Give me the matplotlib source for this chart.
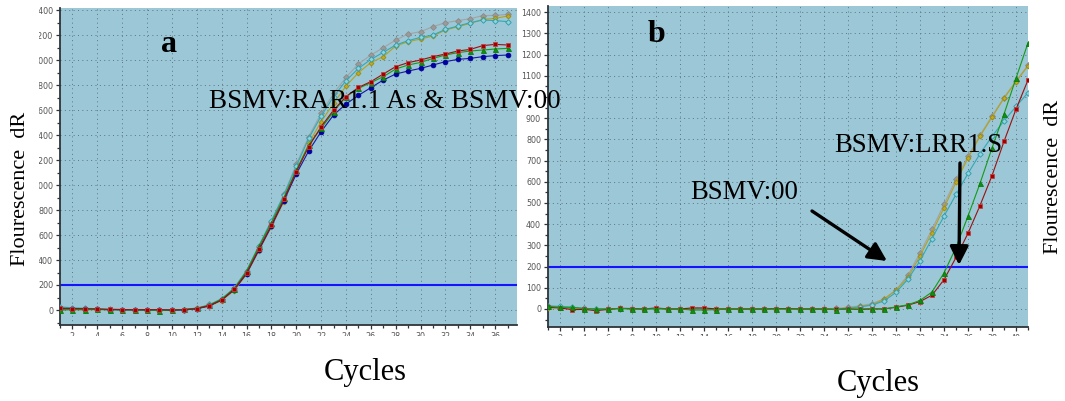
import matplotlib
matplotlib.use("Agg")
import matplotlib.pyplot as plt
from matplotlib.patches import FancyArrowPatch
from matplotlib.transforms import Bbox, TransformedBbox
from matplotlib.ticker import MultipleLocator

# ---------------- data ----------------
# Panel a: amplification curves, cycles 1..37
cycles_a = list(range(1, 38))
gray_a = [12, 10, 8, 6, 4, 3, 2, 1, 0, 0, 3, 15, 45, 88, 173, 307, 507, 707, 925, 1165,
          1387, 1573, 1733, 1861, 1968, 2040, 2099, 2160, 2208, 2227, 2267, 2299, 2315,
          2331, 2355, 2357, 2365]
cyan_a = [25, 18, 14, 10, 6, 4, 2, 1, 0, -2, 2, 12, 40, 90, 175, 315, 515, 715, 920, 1150,
          1373, 1552, 1707, 1835, 1933, 2005, 2061, 2120, 2155, 2181, 2200, 2245, 2272,
          2299, 2320, 2315, 2307]
olive_a = [5, 3, 2, 2, 1, 0, 0, 0, -2, 0, 2, 10, 30, 75, 155, 285, 475, 665, 865, 1100,
           1333, 1507, 1653, 1792, 1899, 1979, 2027, 2112, 2147, 2168, 2192, 2240, 2267,
           2293, 2325, 2333, 2352]
red_a = [15, 12, 10, 8, 5, 4, 2, 3, 2, 0, 3, 12, 35, 80, 165, 295, 490, 680, 885, 1107,
         1307, 1467, 1600, 1707, 1781, 1827, 1888, 1947, 1979, 2000, 2027, 2048, 2072,
         2085, 2115, 2125, 2120]
green_a = [0, 2, 3, 5, 3, 2, 1, 0, -5, 0, 5, 15, 38, 88, 170, 310, 510, 700, 900, 1120,
           1320, 1453, 1587, 1707, 1773, 1819, 1867, 1928, 1960, 1981, 2013, 2040, 2059,
           2072, 2080, 2088, 2093]
blue_a = [10, 8, 6, 5, 3, 2, 1, 0, 0, -2, 2, 10, 32, 80, 160, 290, 480, 670, 875, 1088,
          1272, 1427, 1560, 1648, 1717, 1779, 1840, 1888, 1912, 1933, 1960, 1987, 2005,
          2013, 2027, 2035, 2040]

# Panel b: amplification curves, cycles 1..41
cycles_b = list(range(1, 42))
gray_b = [10, 8, 5, 2, 0, -2, 3, 2, 0, 0, 2, 0, 1, 0, -2, 0, 2, 0, 0, 0, 0, 0, 0, 0, 3,
          8, 15, 25, 48, 90, 160, 265, 375, 493, 612, 720, 820, 910, 997, 1075, 1150]
olive_b = [5, 5, 3, 0, 0, 0, 2, 0, 0, 0, 0, 2, 0, 0, 0, 0, 0, 0, 0, 0, 0, 0, 0, 0, 0,
           5, 12, 20, 45, 88, 150, 250, 360, 477, 598, 712, 814, 905, 994, 1072, 1146]
cyan_b = [15, 12, 8, 3, 0, 0, 2, 0, -2, 0, 0, 0, 0, 0, -3, 0, 0, 0, -2, 0, 0, 0, 0, -2,
          0, 3, 10, 18, 38, 78, 141, 227, 332, 438, 540, 639, 732, 814, 887, 955, 1020]
green_b = [12, 8, 8, 2, 0, 0, 3, 0, 0, 2, 0, 0, -5, -5, -3, 0, 0, 0, 0, 0, 0, 0, 0, 0,
           -3, 0, 0, 2, 0, 10, 20, 40, 80, 170, 290, 438, 592, 759, 919, 1088, 1255]
red_b = [8, 5, -3, -2, -8, -2, 3, 2, 0, 5, 0, 0, 5, 5, 0, 0, 0, 0, 0, 2, 2, 0, 0, 0,
         -2, 0, -2, 0, 0, 8, 18, 35, 65, 138, 243, 357, 488, 629, 790, 942, 1080]

threshold = 200

yticks_a = list(range(0, 2401, 200))
yticks_b = list(range(0, 1401, 100))
xticks_a = list(range(2, 37, 2))
xticks_b = list(range(2, 41, 2))
ylabels_a = [str(v) for v in yticks_a]
# the 1000 label of panel b sits under the panel-a caption
ylabels_b = ["" if v == 1000 else str(v) for v in yticks_b]

# ---------------- styling ----------------
W, H = 1065, 401
BG = "#9bc7d6"
GRID = "#5e7480"
SPINE = "#2e3438"
TICKTXT = "#555555"
SERIF = ["Liberation Serif", "DejaVu Serif"]

styles = {
    "gray": dict(color="#a3a3a3", marker="D", mfc="#9a9a9a", mec="#8a8a8a", ms=3.0),
    "cyan": dict(color="#35a8b4", marker="D", mfc="#8fd2dc", mec="#2a9aa8", ms=2.8),
    "olive": dict(color="#b5a21c", marker="D", mfc="#c0aa22", mec="#9a8a10", ms=2.5),
    "red": dict(color="#9a1010", marker="s", mfc="#a00000", mec="#c04040", ms=3.4),
    "green": dict(color="#169a16", marker="^", mfc="#109010", mec="#0a7a0a", ms=3.6),
    "blue": dict(color="#1818a0", marker="o", mfc="#00009a", mec="#0000a0", ms=3.4),
}

fig = plt.figure(figsize=(W / 100, H / 100), dpi=100)
fig.patch.set_facecolor("white")


def box(left, top, right, bottom):
    return [left / W, 1 - bottom / H, (right - left) / W, (bottom - top) / H]


def fx(x):
    return x / W


def fy(y):
    return 1 - y / H


def style_axes(ax, xmin, xmax, ymin, ymax, yticks, ylabels, ymin_step, xticks):
    ax.set_facecolor(BG)
    ax.set_xlim(xmin, xmax)
    ax.set_ylim(ymin, ymax)
    for s in ("top", "right"):
        ax.spines[s].set_visible(False)
    for s in ("left", "bottom"):
        ax.spines[s].set_color(SPINE)
        ax.spines[s].set_linewidth(1.3)
    ax.set_yticks(yticks, labels=ylabels)
    ax.yaxis.set_minor_locator(MultipleLocator(ymin_step))
    ax.set_xticks(xticks, labels=[str(v) for v in xticks])
    ax.xaxis.set_minor_locator(MultipleLocator(1))
    ax.tick_params(axis="both", which="major", direction="out", length=3, width=0.9,
                   color=SPINE, labelsize=5.8, labelcolor=TICKTXT, pad=2)
    ax.tick_params(axis="both", which="minor", direction="out", length=2.5, width=0.9,
                   color=SPINE)
    ax.grid(True, which="major", color=GRID, linestyle=(0, (1, 3.5)), linewidth=0.7)
    ax.set_axisbelow(True)


def plot_series(ax, x, y, key):
    st = styles[key]
    ax.plot(x, y, color=st["color"], lw=0.8, marker=st["marker"], ms=st["ms"],
            mfc=st["mfc"], mec=st["mec"], mew=0.6, zorder=3)


# ---------------- panel a ----------------
ax_a = fig.add_axes(box(60, 8, 517, 325))
style_axes(ax_a, 1, 37.75, -120, 2416, yticks_a, ylabels_a, 100, xticks_a)
ax_a.axhline(threshold, color="#1414ff", lw=1.5, zorder=2)
for key, vals in [("gray", gray_a), ("olive", olive_a), ("cyan", cyan_a),
                  ("blue", blue_a), ("green", green_a), ("red", red_a)]:
    plot_series(ax_a, cycles_a, vals, key)

# ---------------- panel b ----------------
ax_b = fig.add_axes(box(548, 6, 1028, 327))
style_axes(ax_b, 1, 41, -85, 1429, yticks_b, ylabels_b, 50, xticks_b)
ax_b.axhline(threshold, color="#1414ff", lw=1.5, zorder=2)
for key, vals in [("gray", gray_b), ("olive", olive_b), ("cyan", cyan_b),
                  ("red", red_b), ("green", green_b)]:
    plot_series(ax_b, cycles_b, vals, key)

# tick labels are trimmed at the edges of each scanned panel
clip_a_y = TransformedBbox(Bbox.from_extents(fx(38.5), 0, 1, 1), fig.transFigure)
clip_x = TransformedBbox(Bbox.from_extents(0, fy(335.5), 1, 1), fig.transFigure)
for lab in ax_a.get_yticklabels():
    lab.set_clip_box(clip_a_y)
    lab.set_clip_on(True)
for ax in (ax_a, ax_b):
    for lab in ax.get_xticklabels():
        lab.set_clip_box(clip_x)
        lab.set_clip_on(True)

# ---------------- text ----------------
fig.text(fx(161), fy(52), "a", family=SERIF, weight="bold", fontsize=23, va="baseline")
fig.text(fx(648), fy(42), "b", family=SERIF, weight="bold", fontsize=23, va="baseline")
fig.text(fx(209), fy(108), "BSMV:RAR1.1 As & BSMV:00", family=SERIF, fontsize=19.5,
         va="baseline")
fig.text(fx(834), fy(152), "BSMV:LRR1.S", family=SERIF, fontsize=19.3, va="baseline")
fig.text(fx(690), fy(199), "BSMV:00", family=SERIF, fontsize=19.3, va="baseline")
fig.text(fx(365), fy(380), "Cycles", family=SERIF, fontsize=22, va="baseline", ha="center")
fig.text(fx(878), fy(391), "Cycles", family=SERIF, fontsize=22, va="baseline", ha="center")
fig.text(fx(21), fy(189), "Flourescence  dR", family=SERIF, fontsize=16, rotation=90,
         ha="center", va="center")
fig.text(fx(1054), fy(177), "Flourescence  dR", family=SERIF, fontsize=16, rotation=90,
         ha="center", va="center")

# ---------------- arrows ----------------
for (x0, y0), (x1, y1) in [((812, 211), (887, 261)), ((960, 163), (959, 265))]:
    arr = FancyArrowPatch((fx(x0), fy(y0)), (fx(x1), fy(y1)),
                          transform=fig.transFigure, arrowstyle="-|>",
                          mutation_scale=28, lw=2.4, color="black",
                          shrinkA=0, shrinkB=0, zorder=10)
    fig.add_artist(arr)

fig.savefig("out.png", dpi=100, facecolor="white")
